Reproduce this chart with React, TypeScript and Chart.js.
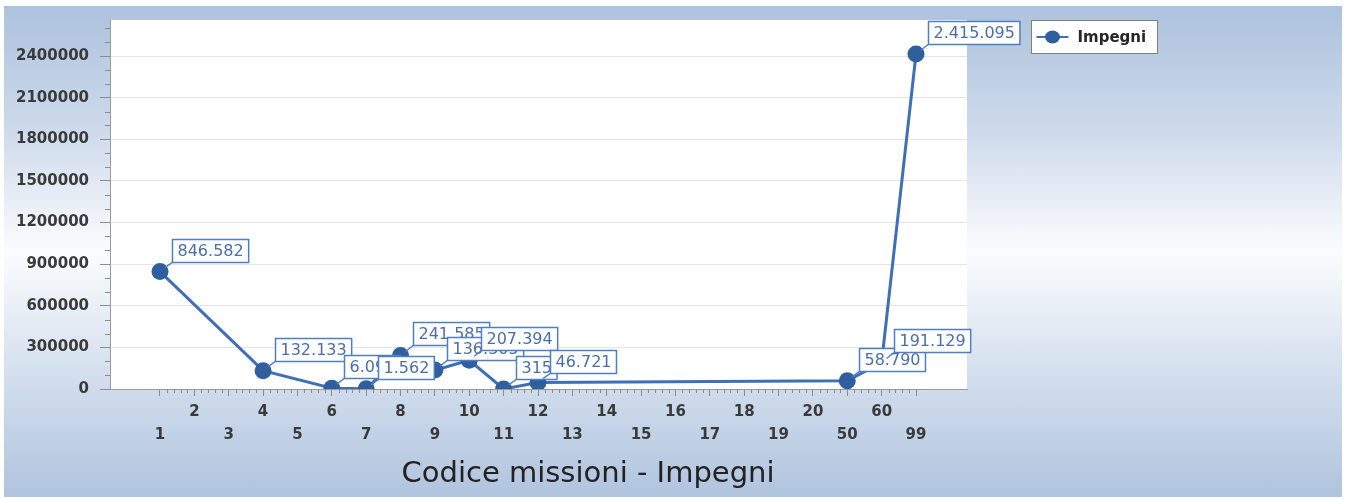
import React, { useEffect, useRef } from 'react';
import { Chart, registerables } from 'chart.js';

Chart.register(...registerables);

const categories: string[] = ['1','2','3','4','5','6','7','8','9','10','11','12','13','14','15','16','17','18','19','20','50','60','99'];
const impegni: (number | null)[] = [846582, null, null, 132133, null, 6095, 1562, 241585, 136305, 207394, 315, 46721, null, null, null, null, null, null, null, null, 58790, 191129, 2415095];
const yTicks: number[] = [0, 300000, 600000, 900000, 1200000, 1500000, 1800000, 2100000, 2400000];
const seriesLabel = 'Impegni';
const axisTitle = 'Codice missioni - Impegni';

const FONT = "'DejaVu Sans', sans-serif";
const LINE_COLOR = '#3f6fb5';
const POINT_COLOR = '#2f5f9e';

function fmt(v: number): string {
  return String(Math.round(v)).replace(/\B(?=(\d{3})+(?!\d))/g, '.');
}

const decor = {
  id: 'decor',
  beforeDraw(chart: any) {
    const { ctx, chartArea: a } = chart;
    ctx.save();
    ctx.fillStyle = '#ffffff';
    ctx.fillRect(a.left, a.top, a.right - a.left, a.bottom - a.top);
    ctx.restore();
  },
  afterDatasetsDraw(chart: any) {
    const { ctx } = chart;
    const meta = chart.getDatasetMeta(0);
    ctx.save();
    ctx.font = `16px ${FONT}`;
    ctx.textBaseline = 'middle';
    ctx.textAlign = 'left';
    meta.data.forEach((pt: any, i: number) => {
      const v = impegni[i];
      if (v === null || v === undefined) return;
      const px = pt.x, py = pt.y;
      const text = fmt(v);
      const w = ctx.measureText(text).width + 10;
      const h = 23;
      const bx = Math.round(px + 12) + 0.5;
      const by = Math.round(py - 10 - h) + 0.5;
      ctx.strokeStyle = '#4f7fc0';
      ctx.lineWidth = 1.5;
      ctx.beginPath();
      ctx.moveTo(px + 5, py - 4);
      ctx.lineTo(bx + 1, by + h - 1);
      ctx.stroke();
      ctx.fillStyle = '#ffffff';
      ctx.fillRect(bx, by, w, h);
      ctx.strokeRect(bx, by, w, h);
      ctx.fillStyle = '#4a6fa8';
      ctx.fillText(text, bx + 5, by + h / 2 + 1);
    });
    ctx.restore();
  },
  afterDraw(chart: any) {
    const { ctx, chartArea: a } = chart;
    const xs = chart.scales.x, ys = chart.scales.y;
    ctx.save();
    ctx.strokeStyle = '#8c8c8c';
    ctx.lineWidth = 1;
    ctx.beginPath();
    for (let i = 0; i < categories.length - 1; i++) {
      for (let k = 1; k < 5; k++) {
        const px = Math.round(xs.getPixelForValue(i + k / 5)) + 0.5;
        ctx.moveTo(px, a.bottom);
        ctx.lineTo(px, a.bottom + 4);
      }
    }
    for (let v = 100000; v <= ys.max; v += 100000) {
      if (v % 300000 === 0) continue;
      const py = Math.round(ys.getPixelForValue(v)) + 0.5;
      ctx.moveTo(a.left - 5, py);
      ctx.lineTo(a.left, py);
    }
    ctx.stroke();

    // axis title
    ctx.font = `29px ${FONT}`;
    ctx.fillStyle = '#222222';
    ctx.textAlign = 'center';
    ctx.textBaseline = 'middle';
    ctx.fillText(axisTitle, 588, 474);

    // legend
    const lx = 1031.5, ly = 20.5, lw = 126, lh = 33;
    ctx.fillStyle = '#ffffff';
    ctx.fillRect(lx, ly, lw, lh);
    ctx.strokeStyle = '#808080';
    ctx.lineWidth = 1;
    ctx.strokeRect(lx, ly, lw, lh);
    const cy = ly + lh / 2;
    ctx.strokeStyle = LINE_COLOR;
    ctx.lineWidth = 2;
    ctx.beginPath();
    ctx.moveTo(lx + 5, cy);
    ctx.lineTo(lx + 37, cy);
    ctx.stroke();
    ctx.fillStyle = POINT_COLOR;
    ctx.beginPath();
    ctx.ellipse(lx + 21, cy, 7.5, 6.5, 0, 0, Math.PI * 2);
    ctx.fill();
    ctx.font = `bold 15px ${FONT}`;
    ctx.fillStyle = '#262626';
    ctx.textAlign = 'left';
    ctx.fillText(chart.data.datasets[0].label, lx + 46, cy + 1);
    ctx.restore();
  },
};

export default function App() {
  const ref = useRef<HTMLCanvasElement>(null);
  useEffect(() => {
    if (!ref.current) return;
    const chart = new Chart(ref.current, {
      type: 'line',
      data: {
        datasets: [
          {
            label: seriesLabel,
            data: categories.map((_, i) => ({ x: i, y: impegni[i] })) as any,
            borderColor: LINE_COLOR,
            backgroundColor: POINT_COLOR,
            borderWidth: 3,
            pointRadius: 8.5,
            pointBackgroundColor: POINT_COLOR,
            pointBorderColor: POINT_COLOR,
            pointBorderWidth: 0,
            spanGaps: true,
            tension: 0,
          },
        ],
      },
      options: {
        animation: false,
        responsive: false,
        layout: { padding: { top: 20, right: 384, bottom: 0, left: 0 } },
        plugins: { legend: { display: false }, tooltip: { enabled: false } },
        scales: {
          x: {
            type: 'linear',
            min: -1.455,
            max: 23.484,
            afterBuildTicks: (s: any) => {
              s.ticks = categories.map((_, i) => ({ value: i }));
            },
            afterFit: (s: any) => {
              s.height = 110;
            },
            ticks: {
              autoSkip: false,
              maxRotation: 0,
              minRotation: 0,
              padding: 4,
              color: '#3a3a3a',
              font: { family: FONT, size: 15, weight: 'bold', lineHeight: 1.55 },
              callback: (v: any) => {
                const i = Math.round(Number(v));
                const l = categories[i] ?? '';
                return i % 2 === 0 ? ['', l] : [l, ''];
              },
            },
            grid: { display: true, drawOnChartArea: false, drawTicks: true, tickLength: 7, color: '#8c8c8c', tickColor: '#8c8c8c' },
            border: { display: true, color: '#9a9a9a', width: 1 },
          } as any,
          y: {
            type: 'linear',
            min: 0,
            max: 2660000,
            afterBuildTicks: (s: any) => {
              s.ticks = yTicks.map((v) => ({ value: v }));
            },
            afterFit: (s: any) => {
              s.width = 110;
            },
            ticks: {
              padding: 11,
              color: '#3a3a3a',
              font: { family: FONT, size: 15, weight: 'bold' },
              callback: (v: any) => String(v),
            },
            grid: { color: '#e4e4e4', tickColor: '#8c8c8c', tickLength: 10, drawTicks: true },
            border: { display: true, color: '#9a9a9a', width: 1 },
          } as any,
        },
      },
      plugins: [decor],
    });
    return () => chart.destroy();
  }, []);

  return (
    <div style={{ position: 'fixed', left: 0, top: 0, width: 1351, height: 499, background: '#ffffff', overflow: 'hidden' }}>
      <div
        style={{
          position: 'absolute',
          left: 4,
          top: 6,
          width: 1338,
          height: 491,
          background: 'linear-gradient(to bottom, #adc2dd 0%, #cddaeb 25%, #fbfcfe 50%, #d2deed 76%, #b0c4de 100%)',
        }}
      />
      <canvas ref={ref} width={1351} height={499} style={{ position: 'absolute', left: 0, top: 0, width: 1351, height: 499 }} />
    </div>
  );
}
